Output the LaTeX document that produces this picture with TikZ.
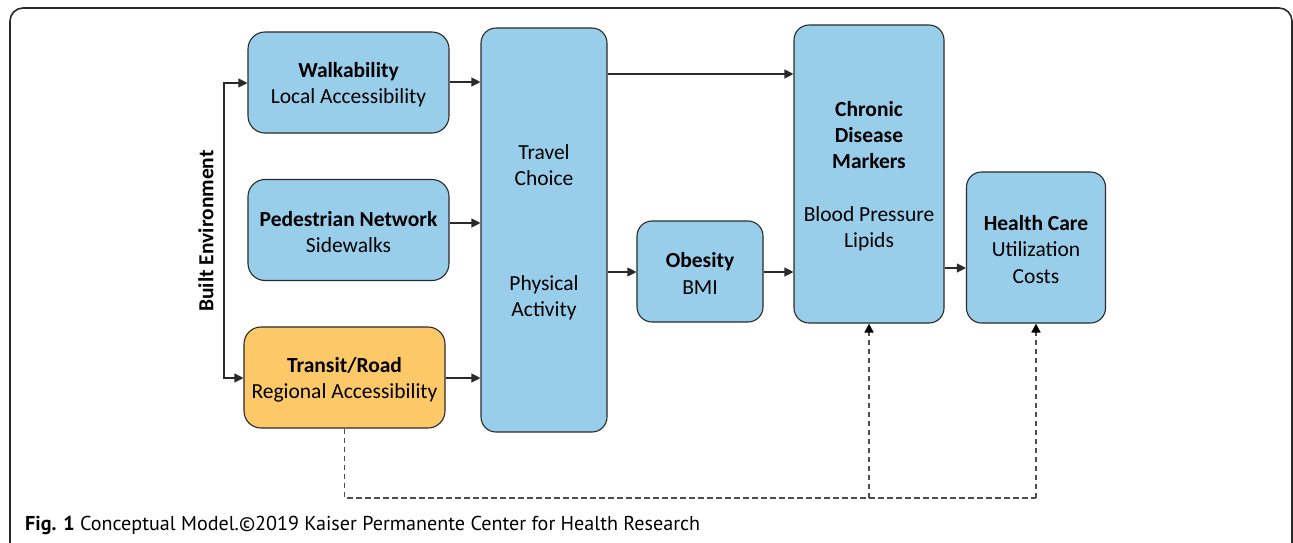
\documentclass[tikz,border=0pt]{standalone}
\usepackage{fontspec}
\setmainfont{Carlito}
\newfontfamily\capfont{PT Sans}
\usetikzlibrary{arrows.meta}
\definecolor{boxblue}{HTML}{98CEEA}
\definecolor{boxorange}{HTML}{FDC868}
\definecolor{edgegray}{HTML}{2A2A2A}
\definecolor{dashgray}{HTML}{4D4D4D}
\tikzset{
  box/.style={draw=edgegray, line width=1.1pt, fill=boxblue, rounded corners=17pt,
    inner sep=0pt},
  boxtext/.style={align=center, inner sep=0pt, yshift=-2pt,
    font=\fontsize{21.5}{26.2}\selectfont},
  conn/.style={draw=edgegray, line width=1.1pt, -{Triangle[length=9pt,width=9pt]}},
  dconn/.style={draw=dashgray, line width=1.6pt, dash pattern=on 5.5pt off 3.5pt},
  dconnarrow/.style={dconn, -{Triangle[length=9pt,width=9pt,color=black,fill=black]}},
}
\begin{document}
\begin{tikzpicture}[x=1pt,y=-1pt]
\useasboundingbox (0,0) rectangle (1293,542);
\clip (0,0) rectangle (1293,542);
\draw[edgegray, line width=1.6pt, rounded corners=13pt] (10,8) rectangle (1292,570);

% boxes
\node[box, minimum width=201pt, minimum height=101pt,
  label={[boxtext]center:{\textbf{Walkability}\\Local Accessibility}}] (walk) at (348.5,82.5) {};
\node[box, minimum width=201pt, minimum height=101pt,
  label={[boxtext]center:{\textbf{Pedestrian Network}\\Sidewalks}}] (ped) at (348.5,230) {};
\node[box, fill=boxorange, minimum width=201pt, minimum height=101pt,
  label={[boxtext]center:{\textbf{Transit/Road}\\Regional Accessibility}}] (trans) at (344.5,377.5) {};
\node[box, rounded corners=15pt, minimum width=126pt, minimum height=404pt,
  label={[boxtext]center:{Travel\\Choice\\[78.6pt]Physical\\Activity}}] (travel) at (544,230) {};
\node[box, rounded corners=15pt, minimum width=126pt, minimum height=101pt,
  label={[boxtext]center:{\textbf{Obesity}\\BMI}}] (obes) at (700,271.5) {};
\node[box, rounded corners=15pt, minimum width=150pt, minimum height=298pt,
  label={[boxtext]center:{\textbf{Chronic}\\\textbf{Disease}\\\textbf{Markers}\\[26.2pt]Blood Pressure\\Lipids}}] (chron) at (869,174) {};
\node[box, rounded corners=15pt, minimum width=139pt, minimum height=151pt,
  label={[boxtext]center:{\textbf{Health Care}\\Utilization\\Costs}}] (hc) at (1036,247.5) {};

% built environment label
\node[rotate=90, font=\fontsize{21.5}{26}\selectfont\bfseries] (be) at (206,231) {Built Environment};

% left bracket arrows
\coordinate (bTop) at (224,83);
\coordinate (bBot) at (224,378);
\draw[conn] (bBot) -- (bTop) -- (walk.west |- bTop);
\draw[conn] (bTop) -- (bBot) -- (trans.west |- bBot);

% into travel box
\draw[conn] (walk.east |- 0,82) -- (travel.west |- 0,82);
\draw[conn] (ped.east |- 0,223) -- (travel.west |- 0,223);
\draw[conn] (trans.east |- 0,378) -- (travel.west |- 0,378);

% out of travel box
\draw[conn] (travel.east |- 0,74) -- (chron.west |- 0,74);
\draw[conn] (travel.east |- 0,272) -- (obes.west |- 0,272);
\draw[conn] (obes.east |- 0,272) -- (chron.west |- 0,272);
\draw[conn] (chron.east |- 0,268) -- (hc.west |- 0,268);

% dashed feedback
\coordinate (dL) at (trans.south |- 0,498);
\coordinate (dM) at (chron.south |- 0,498);
\coordinate (dR) at (hc.south |- 0,498);
\draw[dconn] (trans.south) -- (dL) -- (dR);
\draw[dconnarrow] (dM) -- (chron.south);
\draw[dconnarrow] (dR) -- (hc.south);

% caption
\node[anchor=base west, inner sep=0pt, font=\capfont\fontsize{20.1}{23}\selectfont] (cap) at (25,530)
  {\textbf{Fig. 1} Conceptual Model.©2019 Kaiser Permanente Center for Health Research};
\end{tikzpicture}
\end{document}
